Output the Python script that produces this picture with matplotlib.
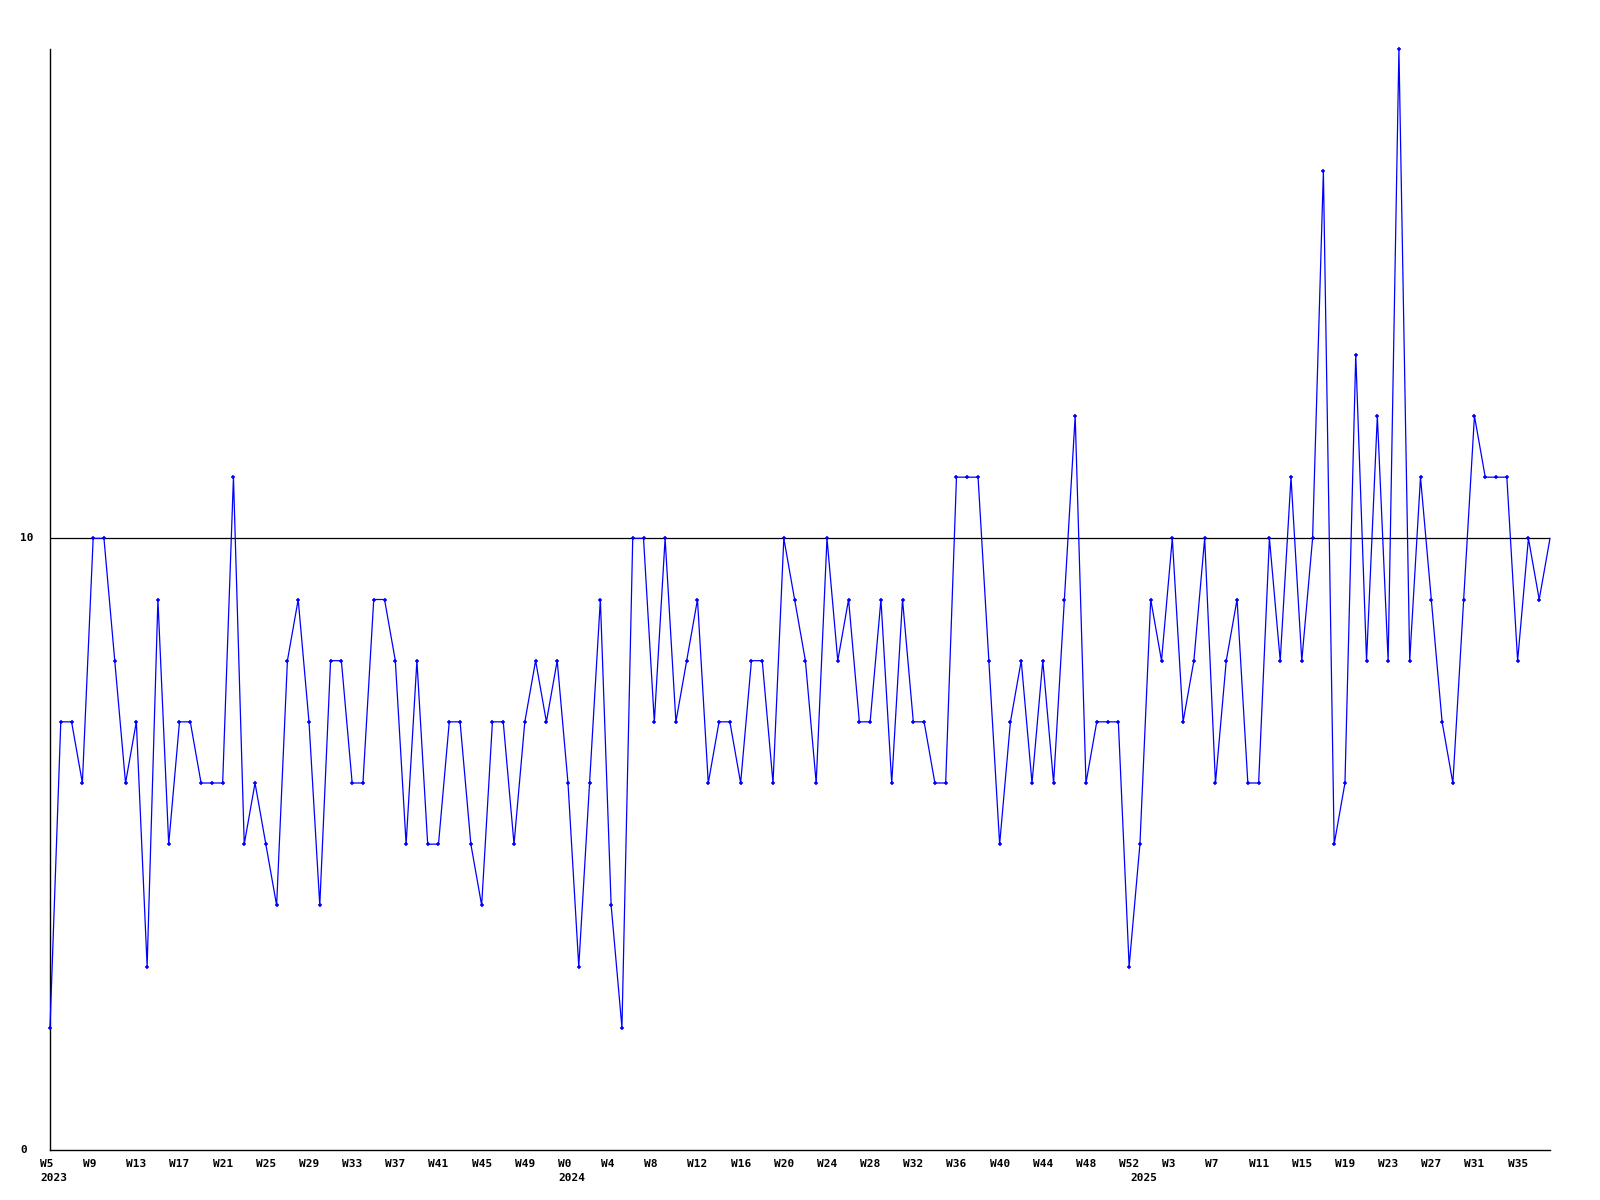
import matplotlib
matplotlib.use("Agg")
import matplotlib.pyplot as plt
import matplotlib.transforms as mtransforms

# ---- data -------------------------------------------------------------
years = ["2023", "2024", "2025"]
weeks_2023 = list(range(5, 53))   # W5 .. W52
weeks_2024 = list(range(0, 53))   # W0 .. W52
weeks_2025 = list(range(0, 39))   # W0 .. W38

values_2023 = [2, 7, 7, 6, 10, 10, 8, 6, 7, 3,
               9, 5, 7, 7, 6, 6, 6, 11, 5, 6,
               5, 4, 8, 9, 7, 4, 8, 8, 6, 6,
               9, 9, 8, 5, 8, 5, 5, 7, 7, 5,
               4, 7, 7, 5, 7, 8, 7, 8]
values_2024 = [6, 3, 6, 9, 4, 2, 10, 10, 7, 10,
               7, 8, 9, 6, 7, 7, 6, 8, 8, 6,
               10, 9, 8, 6, 10, 8, 9, 7, 7, 9,
               6, 9, 7, 7, 6, 6, 11, 11, 11, 8,
               5, 7, 8, 6, 8, 6, 9, 12, 6, 7,
               7, 7, 3]
values_2025 = [5, 9, 8, 10, 7, 8, 10, 6, 8, 9,
               6, 6, 10, 8, 11, 8, 10, 16, 5, 6,
               13, 8, 12, 8, 18, 8, 11, 9, 7, 6,
               9, 12, 11, 11, 11, 8, 10, 9, 10]

y_labels = [0, 10]
reference_level = 10
tick_step = 4

# ---- assemble ---------------------------------------------------------
week_cats = ([f"W{w}" for w in weeks_2023] +
             [f"W{w}" for w in weeks_2024] +
             [f"W{w}" for w in weeks_2025])
values = values_2023 + values_2024 + values_2025
xs = list(range(len(values)))
year_starts = [0, len(weeks_2023), len(weeks_2023) + len(weeks_2024)]

W, H = 1600, 1200
fig = plt.figure(figsize=(W / 100, H / 100), dpi=100)
ax = fig.add_axes([50 / W, 50 / H, 1500 / W, 1101 / H])
ax.set_xlim(0, len(values) - 1)
ax.set_ylim(0, 18)
ax.set_xticks([])
ax.set_yticks([])
for s in ("top", "right"):
    ax.spines[s].set_visible(False)
for s in ("left", "bottom"):
    ax.spines[s].set_color("black")
    ax.spines[s].set_linewidth(1.0)

ax.axhline(reference_level, color="black", lw=0.9, zorder=1)
ax.plot(xs[:-1], values[:-1], color="#0000ff", lw=0.9, marker="+", markersize=3.2,
        markeredgewidth=1.1, zorder=3, clip_on=False)
ax.plot(xs[-2:], values[-2:], color="#0000ff", lw=0.9, zorder=3, clip_on=False)

font = dict(family="DejaVu Sans Mono", fontweight="bold", fontsize=8, color="black")

blend = mtransforms.blended_transform_factory(ax.transData, ax.transAxes)
wk_tr = blend + mtransforms.ScaledTranslation(-10 / 100, -9 / 100, fig.dpi_scale_trans)
yr_tr = blend + mtransforms.ScaledTranslation(-10 / 100, -23 / 100, fig.dpi_scale_trans)

for i in range(0, len(values), tick_step):
    ax.text(i, 0, week_cats[i], transform=wk_tr, ha="left", va="top",
            clip_on=False, **font)
for yr, i in zip(years, year_starts):
    ax.text(i, 0, yr, transform=yr_tr, ha="left", va="top", clip_on=False, **font)

ylab_tr = mtransforms.blended_transform_factory(fig.transFigure, ax.transData)
for v in y_labels:
    fig.text(20 / W, v, str(v), transform=ylab_tr, ha="left", va="center", **font)

fig.savefig("out.png", dpi=100, facecolor="white")
